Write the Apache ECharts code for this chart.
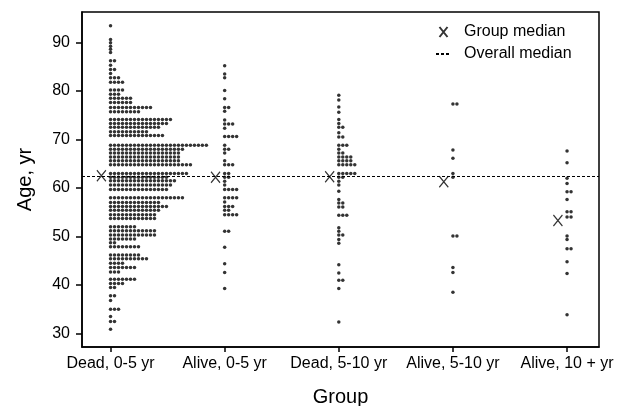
<!DOCTYPE html>
<html>
<head>
<meta charset="utf-8">
<script src="https://cdn.jsdelivr.net/npm/echarts@6/dist/echarts.min.js"></script>
<style>
  html, body { margin: 0; padding: 0; background: #fff; }
  #chart { width: 624px; height: 406px; }
</style>
</head>
<body>
<div id="chart"></div>
<script>
var groups = ["Dead, 0-5 yr", "Alive, 0-5 yr", "Dead, 5-10 yr", "Alive, 5-10 yr", "Alive, 10 + yr"];
var groupTicks = [0, 1, 2, 3, 4];
var ageTicks = [30, 40, 50, 60, 70, 80, 90];

// each dot row: its age and how many patients sit in it
var dead05Age = [93.4, 90.6, 89.9, 89.2, 88.6, 87.9, 86.2, 85.3, 84.4, 83.6, 82.7, 81.8,
  80.2, 79.3, 78.5, 77.6, 76.6, 75.7, 74.1, 73.3, 72.5, 71.6, 70.8, 68.8, 68.0, 67.2, 66.4,
  65.6, 64.8, 63.0, 62.2, 61.5, 60.6, 59.7, 58.0, 57.0, 56.2, 55.4, 54.5, 53.7, 52.0, 51.2,
  50.3, 49.5, 48.7, 47.9, 46.2, 45.4, 44.5, 43.6, 42.7, 41.2, 40.3, 39.5, 37.8, 36.8, 35.0,
  33.5, 32.5, 30.9];
var dead05Count = [1, 1, 1, 1, 1, 1, 2, 1, 2, 1, 3, 4,
  4, 3, 6, 6, 11, 8, 16, 15, 13, 10, 14, 25, 19, 18, 18,
  18, 21, 20, 15, 17, 16, 15, 19, 13, 15, 13, 12, 12, 7, 12,
  12, 7, 2, 8, 8, 10, 4, 7, 3, 7, 4, 2, 2, 1, 3,
  1, 2, 1];

var alive05Age = [85.2, 83.5, 82.7, 80.1, 78.4, 76.6, 75.8, 74.0, 73.2, 72.3, 70.6, 68.8,
  68.0, 67.2, 65.6, 64.8, 63.0, 62.2, 61.4, 60.6, 59.7, 58.0, 57.1, 56.2, 55.4, 54.5, 51.1,
  47.8, 44.4, 42.6, 39.3];
var alive05Count = [1, 1, 1, 1, 1, 2, 1, 1, 3, 1, 4, 1,
  2, 1, 1, 3, 2, 2, 1, 1, 4, 4, 1, 3, 2, 4, 2,
  1, 1, 1, 1];

var dead510Age = [79.1, 78.1, 76.7, 75.6, 74.1, 73.3, 72.5, 71.4, 70.5, 68.8, 68.0, 67.2,
  66.4, 65.6, 64.8, 63.0, 62.2, 61.4, 60.6, 59.3, 57.6, 56.9, 56.1, 54.4, 51.8, 51.1, 50.3,
  49.4, 48.6, 44.2, 42.5, 41.0, 39.3, 32.4];
var dead510Count = [1, 1, 1, 1, 1, 1, 2, 1, 2, 3, 1, 2,
  4, 4, 5, 5, 2, 1, 1, 1, 1, 2, 2, 3, 1, 1, 2,
  1, 1, 1, 1, 2, 1, 1];

var alive510Age = [77.3, 67.8, 66.1, 63.0, 62.2, 50.1, 43.6, 42.6, 38.5];
var alive510Count = [2, 1, 1, 1, 1, 2, 1, 1, 1];

var alive10Age = [67.6, 65.2, 62.0, 60.9, 59.2, 57.6, 55.1, 54.0, 50.1, 49.4, 47.5, 44.8, 42.4, 33.9];
var alive10Count = [1, 1, 1, 1, 2, 1, 2, 2, 1, 1, 2, 1, 1, 1];

var groupMedian = [62.5, 62.2, 62.3, 61.3, 53.3];
var overallMedian = 62.5;

var rowAges = [dead05Age, alive05Age, dead510Age, alive510Age, alive10Age];
var rowCounts = [dead05Count, alive05Count, dead510Count, alive510Count, alive10Count];

var DOT_STEP = 0.035;   // gap between stacked dots, in group units
var MEDIAN_SHIFT = 0.08; // X sits just left of its column

var dots = [];
rowAges.forEach(function (ages, g) {
  ages.forEach(function (age, r) {
    for (var k = 0; k < rowCounts[g][r]; k++) {
      dots.push([g + k * DOT_STEP, age]);
    }
  });
});
var medianPts = groupMedian.map(function (m, g) { return [g - MEDIAN_SHIFT, m]; });

var font = "Liberation Sans, Arial, sans-serif";
var chart = echarts.init(document.getElementById("chart"));
chart.setOption({
  animation: false,
  backgroundColor: "#fff",
  grid: {
    left: 82, right: 25, top: 12, bottom: 59,
    outerBoundsMode: "none",
    show: true, borderColor: "#000", borderWidth: 1.5
  },
  legend: {
    orient: "vertical",
    left: 435,
    top: 24,
    padding: 0,
    itemWidth: 15,
    itemHeight: 10,
    itemGap: 6,
    symbolKeepAspect: true,
    textStyle: { fontSize: 16, color: "#000", fontFamily: font, padding: [0, 0, 0, 8] },
    data: [
      "Group median",
      { name: "Overall median", itemStyle: { opacity: 0 } }
    ]
  },
  xAxis: {
    type: "value",
    min: -0.25,
    max: 4.28,
    name: "Group",
    nameLocation: "middle",
    nameGap: 40,
    nameTextStyle: { fontSize: 20, color: "#000", fontFamily: font },
    splitLine: { show: false },
    axisLine: { show: true, onZero: false, lineStyle: { color: "#000", width: 1.5 } },
    axisTick: { show: true, length: 5, customValues: groupTicks, lineStyle: { color: "#000", width: 1.5 } },
    axisLabel: {
      customValues: groupTicks,
      margin: 9,
      fontSize: 16,
      color: "#000",
      fontFamily: font,
      formatter: function (v) { return groups[Math.round(v)]; }
    }
  },
  yAxis: {
    type: "value",
    min: 27.24,
    max: 96.25,
    name: "Age, yr",
    nameLocation: "middle",
    nameGap: 47,
    nameTextStyle: { fontSize: 20, color: "#000", fontFamily: font },
    splitLine: { show: false },
    axisLine: { show: true, onZero: false, lineStyle: { color: "#000", width: 1.5 } },
    axisTick: { show: true, length: 6, customValues: ageTicks, lineStyle: { color: "#000", width: 1.5 } },
    axisLabel: {
      customValues: ageTicks,
      margin: 12,
      fontSize: 16,
      color: "#000",
      fontFamily: font
    }
  },
  series: [
    {
      name: "Patients",
      type: "scatter",
      symbol: "circle",
      symbolSize: 3.5,
      itemStyle: { color: "#000" },
      data: dots,
      z: 2
    },
    {
      name: "Group median",
      type: "scatter",
      symbol: "path://M0,0L8,10M8,0L0,10",
      symbolSize: [9, 11],
      itemStyle: { color: "transparent", borderColor: "#000", borderWidth: 1.3 },
      data: medianPts,
      z: 3
    },
    {
      name: "Overall median",
      type: "line",
      symbol: "none",
      data: [],
      itemStyle: { color: "#000" },
      lineStyle: { color: "#000", width: 1, type: [3, 2] },
      markLine: {
        silent: true,
        symbol: "none",
        label: { show: false },
        lineStyle: { color: "#000", width: 1, type: [3, 2] },
        data: [{ yAxis: overallMedian }]
      },
      z: 4
    }
  ]
});
</script>
</body>
</html>
